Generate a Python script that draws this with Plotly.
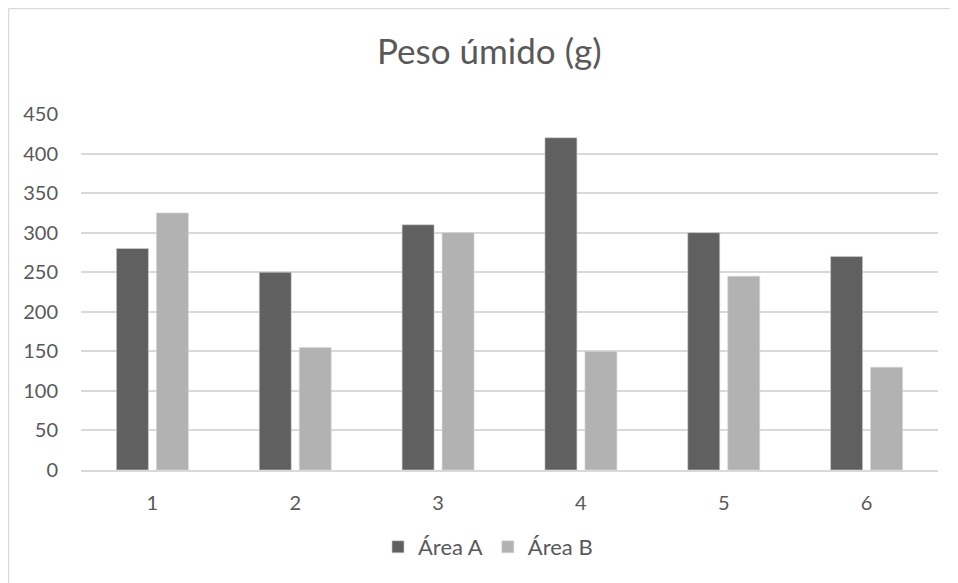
import plotly.graph_objects as go

categories = ["1", "2", "3", "4", "5", "6"]
area_a = [280, 250, 310, 420, 300, 270]
area_b = [325, 155, 300, 150, 245, 130]
y_ticks = [0, 50, 100, 150, 200, 250, 300, 350, 400, 450]

OFF = 8  # browser body margin
W, H = 958 - OFF, 583 - OFF
# plot area in page pixels: x 81..938, y 114..470
L = 81 - OFF
R = W - (938 - OFF)
T = 114 - OFF
B = H - (470 - OFF)
pw, ph = W - L - R, H - T - B

def px_x(p):
    return (p - OFF - L) / pw

def px_y(p):
    return (H - B - (p - OFF)) / ph

font_family = "Lato, 'Open Sans', sans-serif"
text_color = "#595959"

fig = go.Figure()
fig.add_trace(go.Bar(x=categories, y=area_a, name="Área A",
                     marker=dict(color="#606060", line=dict(color="#d0d0d0", width=0.6))))
fig.add_trace(go.Bar(x=categories, y=area_b, name="Área B",
                     marker=dict(color="#b2b2b2", line=dict(color="#d8d8d8", width=0.6))))

fig.update_layout(
    width=W, height=H,
    margin=dict(l=L, r=R, t=T, b=B, pad=0),
    paper_bgcolor="white", plot_bgcolor="white",
    barmode="group", bargap=0.44, bargroupgap=0.2,
    font=dict(family=font_family, color=text_color, size=20),
    showlegend=True,
    legend=dict(orientation="h", x=px_x(488), y=px_y(547), xanchor="center", yanchor="middle",
                font=dict(size=22, color=text_color), itemwidth=30, traceorder="normal"),
    xaxis=dict(showgrid=False, showline=True, linecolor="#d9d9d9", linewidth=1.5,
               ticks="", ticklabelstandoff=14, tickfont=dict(size=20, color=text_color)),
    yaxis=dict(range=[0, 450], tickvals=y_ticks, showgrid=True, gridcolor="#d9d9d9",
               gridwidth=1.5, zeroline=False, showline=False, ticks="",
               ticklabelstandoff=22, tickfont=dict(size=20, color=text_color)),
    annotations=[dict(text="Peso úmido (g)", xref="paper", yref="paper",
                      x=px_x(489.5), y=px_y(50), xanchor="center", yanchor="middle",
                      showarrow=False, font=dict(size=35, color=text_color, family=font_family))],
    shapes=[
        dict(type="line", xref="paper", yref="paper", x0=px_x(8.5), x1=px_x(8.5),
             y0=px_y(600), y1=px_y(8.5), line=dict(color="#d9d9d9", width=1.5)),
        dict(type="line", xref="paper", yref="paper", x0=px_x(8.5), x1=px_x(1000),
             y0=px_y(8.5), y1=px_y(8.5), line=dict(color="#d9d9d9", width=1.5)),
    ],
)

fig.write_html("out.html")
